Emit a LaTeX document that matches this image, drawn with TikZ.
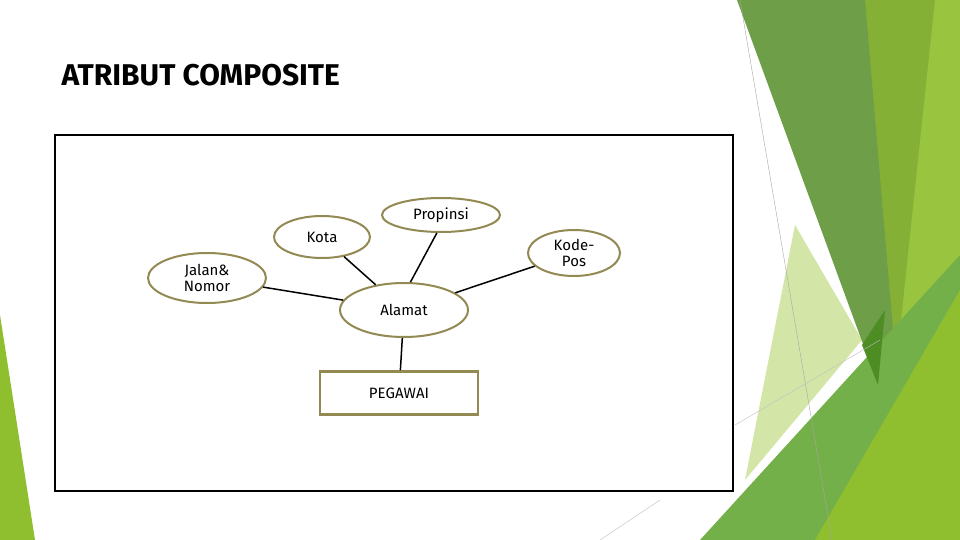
\documentclass[tikz,border=0pt]{standalone}
\usepackage{fontspec}
\setmainfont{Fira Sans}
\usetikzlibrary{shapes.geometric}
\definecolor{olive}{HTML}{938953}
\tikzset{
 attr/.style={ellipse,draw=olive,line width=2pt,fill=white,inner sep=0pt,font=\fontsize{15}{16}\selectfont,align=center},
 ent/.style={rectangle,draw=olive,line width=2.5pt,fill=white,font=\fontsize{15}{16}\selectfont},
 link/.style={line width=1.5pt,black}
}
\begin{document}
\begin{tikzpicture}[x=1pt,y=-1pt]
\useasboundingbox (0,0) rectangle (960,540);
\fill[white] (0,0) rectangle (960,540);
% decorations
\fill[fill={rgb,255:red,132;green,177;blue,53}] (855,0) -- (945,0) -- (960,0) -- (960,300) -- (893,340) -- cycle;
\fill[fill={rgb,255:red,152;green,196;blue,64}] (935,0) -- (960,0) -- (960,540) -- (900,540) -- (900,330) -- cycle;
\fill[fill={rgb,255:red,211;green,230;blue,168}] (745,480) -- (795,225) -- (862,340) -- cycle;
\fill[fill={rgb,255:red,110;green,158;blue,72}] (737,0) -- (865,0) -- (893,330) -- (878,385) -- cycle;
\fill[fill={rgb,255:red,116;green,176;blue,74}] (700,540) -- (960,255) -- (960,540) -- cycle;
\fill[fill={rgb,255:red,143;green,191;blue,46}] (815,540) -- (960,290) -- (960,540) -- cycle;
\fill[fill={rgb,255:red,78;green,140;blue,36}] (862,345) -- (885,310) -- (878,385) -- cycle;
\draw[gray!70,line width=0.4pt] (740,0) -- (832,540);
\draw[gray!50,line width=0.4pt] (735,425) -- (880,340);
\draw[gray!50,line width=0.4pt] (600,540) -- (660,500);
\fill[fill={rgb,255:red,143;green,191;blue,46}] (0,315) -- (35,540) -- (0,540) -- cycle;
% title
\node[anchor=west,font=\bfseries\fontsize{30}{34}\selectfont] (title) at (58,75) {ATRIBUT COMPOSITE};
% frame
\draw[line width=2.5pt] (55,135) rectangle (733,491);
% nodes
\node[attr,minimum width=96,minimum height=42] (kota) at (322,237) {Kota};
\node[attr,minimum width=118,minimum height=34] (prop) at (441,215) {Propinsi};
\node[attr,minimum width=92,minimum height=46] (kode) at (574,253) {Kode-\\Pos};
\node[attr,minimum width=118,minimum height=50] (jalan) at (207,278) {Jalan\&\\Nomor};
\node[attr,minimum width=128,minimum height=54] (alamat) at (404,310) {Alamat};
\node[ent,minimum width=158,minimum height=43] (peg) at (399,393) {PEGAWAI};
% links
\draw[link] (kota) -- (alamat);
\draw[link] (prop.257) -- (alamat.77);
\draw[link] (kode) -- (alamat);
\draw[link] (jalan) -- (alamat);
\draw[link] (alamat) -- (peg);
\end{tikzpicture}
\end{document}
